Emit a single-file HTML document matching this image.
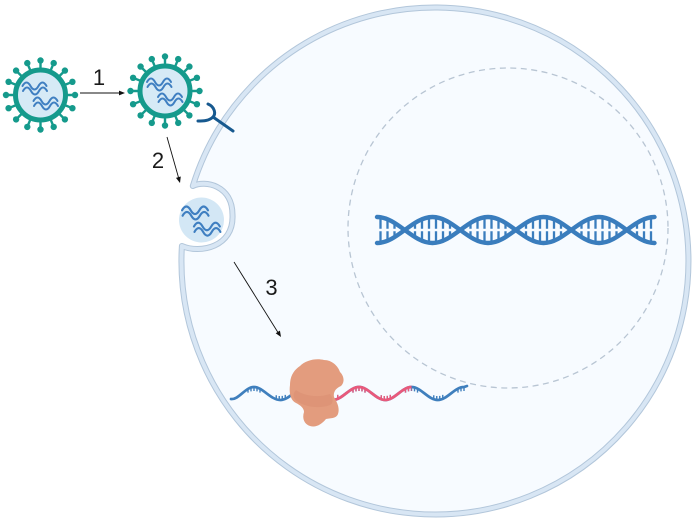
<!DOCTYPE html>
<html>
<head>
<meta charset="utf-8">
<style>
  html,body{margin:0;padding:0;background:#fff;}
  svg{display:block;}
  text{font-family:"Liberation Sans", Arial, sans-serif;}
</style>
</head>
<body>
<svg width="695" height="524" viewBox="0 0 695 524" xmlns="http://www.w3.org/2000/svg">
  <defs>
    <clipPath id="redClip"><rect x="318" y="370" width="93.5" height="40"/></clipPath>
    <g id="squig">
      <path d="M-18,-9 q4,-7 8,0 t8,0 t8,0 M-17.5,-4 q4,-7 8,0 t8,0 t8,0 M-7,6 q4,-7 8,0 t8,0 t8,0 M-6.5,11 q4,-7 8,0 t8,0 t8,0" fill="none" stroke="#3f7fc1" stroke-width="2" stroke-linecap="round"/>
    </g>
    <g id="virus">
      <path d="M27,0H34.5 M24.94,10.33L31.9,13.2 M19.09,19.09L24.4,24.4 M10.33,24.94L13.2,31.9 M0,27V34.5 M-10.33,24.94L-13.2,31.9 M-19.09,19.09L-24.4,24.4 M-24.94,10.33L-31.9,13.2 M-27,0H-34.5 M-24.94,-10.33L-31.9,-13.2 M-19.09,-19.09L-24.4,-24.4 M-10.33,-24.94L-13.2,-31.9 M0,-27V-34.5 M10.33,-24.94L13.2,-31.9 M19.09,-19.09L24.4,-24.4 M24.94,-10.33L31.9,-13.2" stroke="#159a8c" stroke-width="2.4" fill="none"/>
      <g fill="#159a8c">
        <circle cx="34.5" cy="0" r="3.2"/><circle cx="31.9" cy="13.2" r="3.2"/><circle cx="24.4" cy="24.4" r="3.2"/><circle cx="13.2" cy="31.9" r="3.2"/>
        <circle cx="0" cy="34.5" r="3.2"/><circle cx="-13.2" cy="31.9" r="3.2"/><circle cx="-24.4" cy="24.4" r="3.2"/><circle cx="-31.9" cy="13.2" r="3.2"/>
        <circle cx="-34.5" cy="0" r="3.2"/><circle cx="-31.9" cy="-13.2" r="3.2"/><circle cx="-24.4" cy="-24.4" r="3.2"/><circle cx="-13.2" cy="-31.9" r="3.2"/>
        <circle cx="0" cy="-34.5" r="3.2"/><circle cx="13.2" cy="-31.9" r="3.2"/><circle cx="24.4" cy="-24.4" r="3.2"/><circle cx="31.9" cy="-13.2" r="3.2"/>
      </g>
      <circle cx="0" cy="0" r="25" fill="#d6eaf6" stroke="#159a8c" stroke-width="5"/>
      <use href="#squig"/>
    </g>
  </defs>

  <rect x="0" y="0" width="695" height="524" fill="#ffffff"/>

  <!-- Cell with endocytic pocket -->
  <path d="M192.8,186 A253.5,253.5 0 1,1 181.9,246 C200,254 234,247 232.5,215 C232.5,185 205,180 192.8,186 Z"
        fill="#f7fbff" stroke="#b2c6da" stroke-width="6" stroke-linejoin="round" stroke-linecap="round"/>
  <path d="M192.8,186 A253.5,253.5 0 1,1 181.9,246 C200,254 234,247 232.5,215 C232.5,185 205,180 192.8,186 Z"
        fill="none" stroke="#d8e6f4" stroke-width="4" stroke-linejoin="round" stroke-linecap="round"/>

  <!-- vesicle -->
  <circle cx="201.5" cy="220" r="22.5" fill="#d3e7f5"/>
  <g transform="translate(201.5,220) scale(1.08)"><use href="#squig"/></g>

  <!-- Nucleus -->
  <circle cx="508" cy="228" r="160" fill="none" stroke="#b8c5d3" stroke-width="1.3" stroke-dasharray="6 4.5"/>

  <!-- DNA -->
  <g stroke="#3a7dbd" fill="none" stroke-linecap="round">
    <path d="M377,217 C397.21,217 412.29,243 432.5,243 S467.79,217 488,217 S523.29,243 543.5,243 S578.79,217 599,217 S634.29,243 654.5,243" stroke-width="4.4"/>
    <path d="M377,243 C397.21,243 412.29,217 432.5,217 S467.79,243 488,243 S523.29,217 543.5,217 S578.79,243 599,243 S634.29,217 654.5,217" stroke-width="4.4"/>
    <path stroke-width="2.3" stroke-linecap="butt" d="
      M380.5,218.8V228.8M380.5,231.2V241.2 M387.5,220.7V228.8M387.5,231.2V239.3 M394.5,224.4V228.8M394.5,231.2V235.6
      M415,224.4V228.8M415,231.2V235.6 M422,220.7V228.8M422,231.2V239.3 M429,218.8V228.8M429,231.2V241.2 M436,218.8V228.8M436,231.2V241.2 M443,220.7V228.8M443,231.2V239.3 M450,224.4V228.8M450,231.2V235.6
      M470.5,224.4V228.8M470.5,231.2V235.6 M477.5,220.7V228.8M477.5,231.2V239.3 M484.5,218.8V228.8M484.5,231.2V241.2 M491.5,218.8V228.8M491.5,231.2V241.2 M498.5,220.7V228.8M498.5,231.2V239.3 M505.5,224.4V228.8M505.5,231.2V235.6
      M526,224.4V228.8M526,231.2V235.6 M533,220.7V228.8M533,231.2V239.3 M540,218.8V228.8M540,231.2V241.2 M547,218.8V228.8M547,231.2V241.2 M554,220.7V228.8M554,231.2V239.3 M561,224.4V228.8M561,231.2V235.6
      M581.5,224.4V228.8M581.5,231.2V235.6 M588.5,220.7V228.8M588.5,231.2V239.3 M595.5,218.8V228.8M595.5,231.2V241.2 M602.5,218.8V228.8M602.5,231.2V241.2 M609.5,220.7V228.8M609.5,231.2V239.3 M616.5,224.4V228.8M616.5,231.2V235.6
      M637,224.4V228.8M637,231.2V235.6 M644,220.7V228.8M644,231.2V239.3 M651,218.8V228.8M651,231.2V241.2"/>
  </g>

  <!-- mRNA -->
  <g fill="none" stroke-linecap="round">
    <path d="M231,399 C238.7,400 245.3,387 254,387 S270.69,400 280.25,400 S296.94,387 306.5,387 S323.19,400 332.75,400 S349.44,387 359,387 S375.69,400 385.25,400 S401.94,387 411.5,387 S428.19,400 437.75,400 S454.44,387 464,387 L467,386" stroke="#3f7fbd" stroke-width="2.7"/>
    <path d="M248,388.6v4M251,387.4v4M254,387v4M257,387.4v4M260,388.6v4
             M276.25,399.3v-4M279.25,400v-4M282.25,399.9v-4M285.25,398.9v-4
             M337.75,398.9v-4
             M353,388.6v4M356,387.4v4M359,387v4M362,387.4v4M365,388.6v4
             M381.25,399.3v-4M384.25,400v-4M387.25,399.9v-4M390.25,398.9v-4
             M405.5,388.6v4M408.5,387.4v4M411.5,387v4M414.5,387.4v4M417.5,388.6v4
             M433.75,399.3v-4M436.75,400v-4M439.75,399.9v-4M442.75,398.9v-4
             M458,388.6v4M461,387.4v4M464,387v4" stroke="#3f7fbd" stroke-width="1.4" stroke-linecap="butt"/>
    <g clip-path="url(#redClip)">
      <path d="M231,399 C238.7,400 245.3,387 254,387 S270.69,400 280.25,400 S296.94,387 306.5,387 S323.19,400 332.75,400 S349.44,387 359,387 S375.69,400 385.25,400 S401.94,387 411.5,387 S428.19,400 437.75,400" stroke="#e9597b" stroke-width="2.7"/>
      <path d="M337.75,398.9v-4
             M353,388.6v4M356,387.4v4M359,387v4M362,387.4v4M365,388.6v4
             M381.25,399.3v-4M384.25,400v-4M387.25,399.9v-4M390.25,398.9v-4
             M405.5,388.6v4M408.5,387.4v4M411.5,387v4" stroke="#e9597b" stroke-width="1.4" stroke-linecap="butt"/>
    </g>
  </g>

  <!-- Ribosome -->
  <path d="M300,366 C306,360 316,358 324,360 C332,360 338,366 340,372 C344,376 345,382 341,386 C336,388 333,392 334,397 C337,402 340,408 338,414 C336,419 330,418 326,419 C322,424 316,428 310,426 C304,424 302,418 304,412 C304,408 300,405 296,403 C290,400 289,392 290,385 C290,376 294,370 300,366 Z" fill="#e39c7e"/>
  <path d="M296,390 C304,396 318,398 330,394 C333,398 334,403 330,405 C320,409 306,407 298,402 C293,399 292,394 296,390 Z" fill="#d88c6e" opacity="0.45"/>

  <!-- Viruses -->
  <use href="#virus" transform="translate(40.5,95)"/>
  <use href="#virus" transform="translate(165,91)"/>

  <!-- Receptor -->
  <g stroke="#17598f" stroke-width="3" fill="none" stroke-linecap="round">
    <path d="M208,104 C215,107 216,114 213,117 C209,121 203,121 198,121"/>
    <path d="M213,117 L233,131"/>
  </g>

  <!-- Arrows -->
  <g stroke="#111" stroke-width="0.9" fill="none">
    <path d="M80,93 L119.5,93"/>
    <path d="M167,137 L178.5,177.5"/>
    <path d="M234,262 L278,332.5"/>
  </g>
  <g fill="#111">
    <polygon points="125,93 119,90.6 119,95.4"/>
    <polygon points="180,183 180.77,176.55 175.97,177.91"/>
    <polygon points="281,337 279.93,330.59 275.69,333.25"/>
  </g>

  <!-- Labels -->
  <g font-size="22" fill="#1a1a1a" text-anchor="middle">
    <text x="99" y="85">1</text>
    <text x="158" y="168">2</text>
    <text x="271.5" y="295">3</text>
  </g>
</svg>
</body>
</html>
